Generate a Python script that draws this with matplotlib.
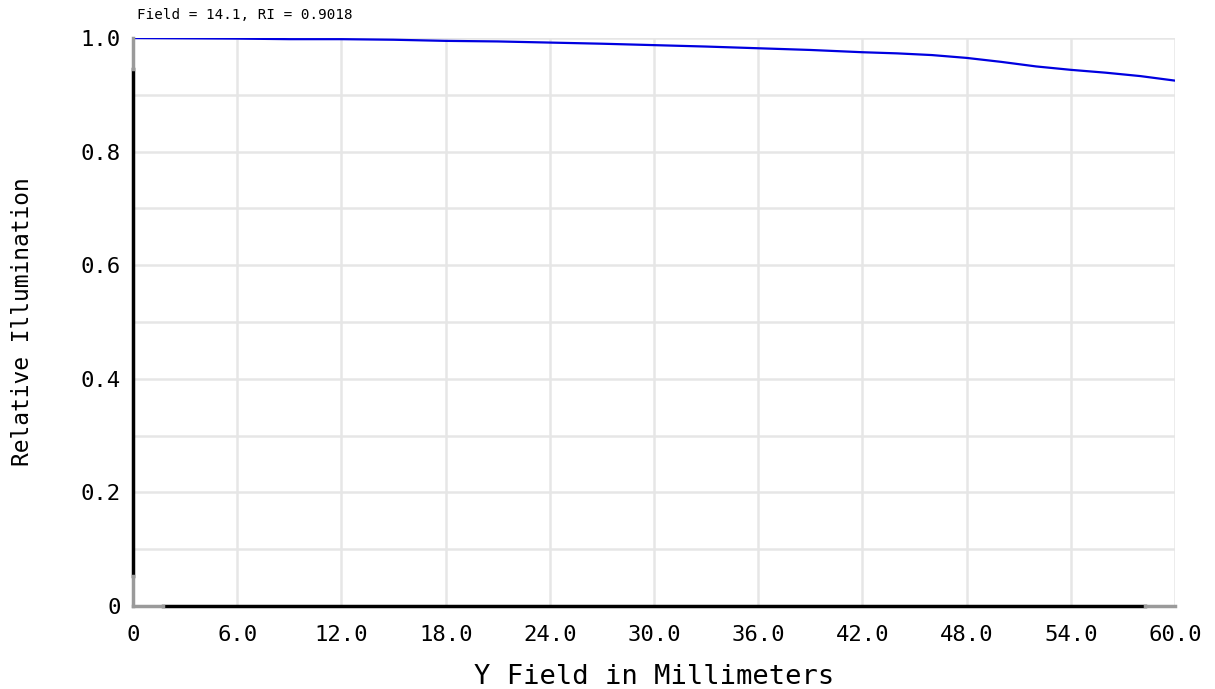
import matplotlib
matplotlib.use("Agg")
import matplotlib.pyplot as plt
import numpy as np

# Relative illumination vs. Y field (mm)
field_mm = [0, 3, 6, 9, 12, 15, 18, 21, 24, 27, 30, 33, 36, 39, 42, 44, 46, 48, 50, 52, 54, 56, 58, 60]
rel_illum = [1.000, 0.9995, 0.999, 0.998, 0.998, 0.997, 0.995, 0.994, 0.992, 0.990, 0.9875,
             0.985, 0.982, 0.979, 0.975, 0.973, 0.970, 0.965, 0.958, 0.950, 0.944, 0.939, 0.933, 0.925]

x_ticks = [0, 6, 12, 18, 24, 30, 36, 42, 48, 54, 60]
x_ticklabels = ["0", "6.0", "12.0", "18.0", "24.0", "30.0", "36.0", "42.0", "48.0", "54.0", "60.0"]
y_ticks = [0, 0.2, 0.4, 0.6, 0.8, 1.0]
y_ticklabels = ["0", "0.2", "0.4", "0.6", "0.8", "1.0"]
y_minor = [0.1, 0.3, 0.5, 0.7, 0.9]

mono = "DejaVu Sans Mono"

fig = plt.figure(figsize=(12.15, 6.89), dpi=100)
ax = fig.add_axes([0.1095, 0.1205, 0.8576, 0.8243])

ax.plot(field_mm, rel_illum, color="#0000e0", lw=1.6, zorder=3)

ax.set_xlim(0, 60)
ax.set_ylim(0, 1.0)
ax.set_xticks(x_ticks)
ax.set_xticklabels(x_ticklabels, fontfamily=mono, fontsize=16)
ax.set_yticks(y_ticks)
ax.set_yticklabels(y_ticklabels, fontfamily=mono, fontsize=16)
ax.set_yticks(y_minor, minor=True)
ax.tick_params(axis="both", which="both", length=0)
ax.tick_params(axis="x", pad=14)
ax.tick_params(axis="y", pad=9)

ax.grid(True, which="both", color="#e6e6e6", lw=1.8, zorder=0)
ax.set_axisbelow(True)

for side in ["top", "right", "left", "bottom"]:
    ax.spines[side].set_visible(False)

# Axis lines: black body with grey end caps
tr = ax.transAxes
ax.plot([0, 0], [0.053, 0.945], color="black", lw=2.5, transform=tr, clip_on=False, zorder=4)
ax.plot([0, 0], [0, 0.053], color="#9a9a9a", lw=2.5, transform=tr, clip_on=False, zorder=4)
ax.plot([0, 0], [0.945, 1.0], color="#9a9a9a", lw=2.5, transform=tr, clip_on=False, zorder=4)
ax.plot([0.029, 0.971], [0, 0], color="black", lw=2.5, transform=tr, clip_on=False, zorder=4)
ax.plot([0, 0.029], [0, 0], color="#9a9a9a", lw=2.5, transform=tr, clip_on=False, zorder=4)
ax.plot([0.971, 1.0], [0, 0], color="#9a9a9a", lw=2.5, transform=tr, clip_on=False, zorder=4)

ax.set_xlabel("Y Field in Millimeters", fontfamily=mono, fontsize=19.5, va="center")
ax.xaxis.set_label_coords(0.5, -0.125)
ax.set_ylabel("Relative Illumination", fontfamily=mono, fontsize=16.5, va="center")
ax.yaxis.set_label_coords(-0.106, 0.5)

fig.text(137 / 1215, 1 - 15 / 689, "Field = 14.1, RI = 0.9018", fontfamily=mono,
         fontsize=10.3, ha="left", va="center")

fig.savefig("out.png", dpi=100, facecolor="white")
